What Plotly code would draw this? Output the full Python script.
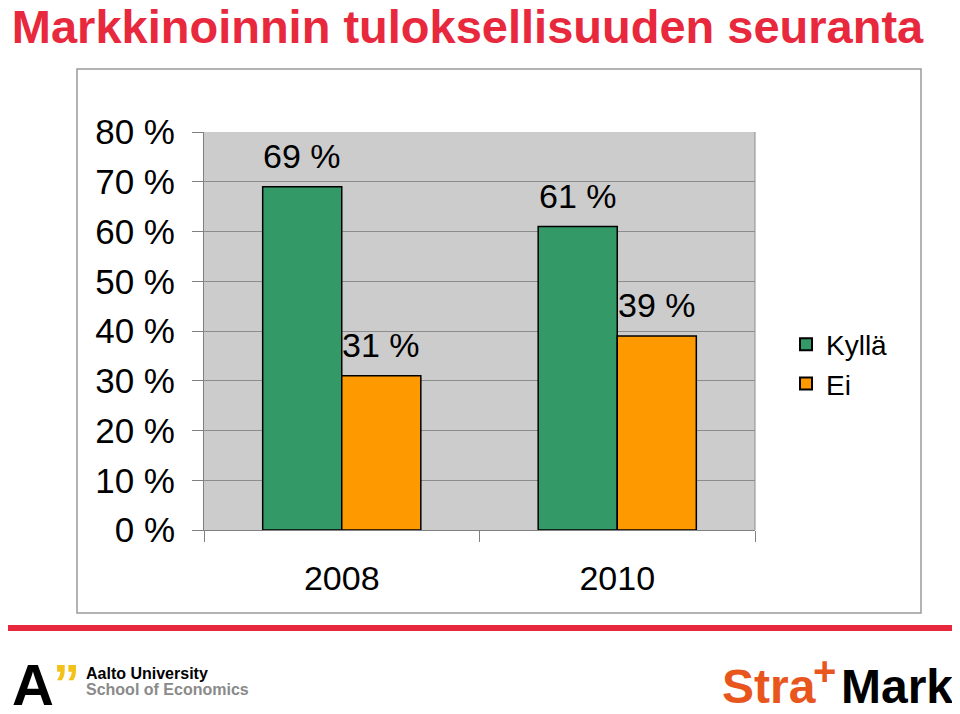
import plotly.graph_objects as go

categories = ["2008", "2010"]
series_names = ["Kyllä", "Ei"]
kylla = [69, 61]
ei = [31, 39]
colors = ["#339966", "#ff9900"]
y_ticks = [0, 10, 20, 30, 40, 50, 60, 70, 80]
y_tick_labels = [f"{v} %" for v in y_ticks]

OFF = 8  # page body margin in the browser
PAGE_W, PAGE_H = 960, 714
W, H = PAGE_W - OFF, PAGE_H - OFF
L, R, T, B = 204, 755, 132, 530  # plot area in page pixels
pw, ph = R - L, B - T

def px(x):
    return (x - L) / pw

def py(y):
    return (B - y) / ph

fig = go.Figure()
bargap = 0.426
half = (1 - bargap) / 4  # offset of each bar centre from category centre

for name, vals, col in zip(series_names, [kylla, ei], colors):
    fig.add_trace(go.Bar(
        x=categories, y=vals, name=name,
        marker=dict(color=col, line=dict(color="#000000", width=1.5)),
        showlegend=False, hoverinfo="skip"))
    fig.add_trace(go.Scatter(
        x=[None], y=[None], mode="markers", name=name,
        marker=dict(symbol="square", size=18, color=col,
                    line=dict(color="#000000", width=1))))

annotations = []
for si, vals in enumerate([kylla, ei]):
    off = -half if si == 0 else half
    for ci, v in enumerate(vals):
        annotations.append(dict(
            x=ci + off, y=v, xref="x", yref="y", text=f"{v} %",
            showarrow=False, yanchor="bottom", yshift=10,
            font=dict(family="Liberation Sans, Arial", size=34, color="#000000")))

# Footer logos as text
annotations += [
    dict(x=px(10), y=py(684), xref="paper", yref="paper", text="<b>A</b>",
         showarrow=False, xanchor="left", yanchor="middle",
         font=dict(family="Liberation Sans", size=58, color="#000000")),
    dict(x=px(51), y=py(683), xref="paper", yref="paper", text="<b>\u201d</b>",
         showarrow=False, xanchor="left", yanchor="middle",
         font=dict(family="Liberation Sans", size=54, color="#f2c21b")),
    dict(x=px(84), y=py(673), xref="paper", yref="paper", text="<b>Aalto University</b>",
         showarrow=False, xanchor="left", yanchor="middle",
         font=dict(family="Liberation Sans", size=16, color="#000000")),
    dict(x=px(84), y=py(689), xref="paper", yref="paper", text="<b>School of Economics</b>",
         showarrow=False, xanchor="left", yanchor="middle",
         font=dict(family="Liberation Sans", size=16, color="#8a8a8a")),
    dict(x=px(720), y=py(686), xref="paper", yref="paper", text="<b>Stra</b>",
         showarrow=False, xanchor="left", yanchor="middle",
         font=dict(family="Liberation Sans", size=48, color="#e8561e")),
    dict(x=px(811), y=py(671), xref="paper", yref="paper", text="<b>+</b>",
         showarrow=False, xanchor="left", yanchor="middle",
         font=dict(family="Liberation Sans", size=40, color="#e8561e")),
    dict(x=px(839), y=py(686), xref="paper", yref="paper", text="<b>Mark</b>",
         showarrow=False, xanchor="left", yanchor="middle",
         font=dict(family="Liberation Sans", size=48, color="#000000")),
]

shapes = [
    # outer chart frame
    dict(type="rect", xref="paper", yref="paper", x0=px(77), x1=px(921),
         y0=py(613), y1=py(69), line=dict(color="#9a9a9a", width=1.5), layer="below"),
    # plot-area right edge
    dict(type="line", xref="paper", yref="paper", x0=1, x1=1, y0=0, y1=1,
         line=dict(color="#8c8c8c", width=1)),
    # red rule
    dict(type="line", xref="paper", yref="paper", x0=px(8), x1=px(955),
         y0=py(628), y1=py(628), line=dict(color="#e8283c", width=6)),
]

fig.update_layout(
    width=W, height=H,
    margin=dict(l=L - OFF, r=PAGE_W - R, t=T - OFF, b=PAGE_H - B),
    paper_bgcolor="#ffffff",
    plot_bgcolor="#cccccc",
    barmode="group", bargap=bargap, bargroupgap=0,
    title=dict(text="<b>Markkinoinnin tuloksellisuuden seuranta</b>",
               x=0.004, xref="container", xanchor="left",
               y=1 - (27 - OFF) / H, yref="container", yanchor="middle",
               font=dict(family="Liberation Sans, Arial", size=47, color="#e8283c")),
    font=dict(family="Liberation Sans, Arial", color="#000000"),
    xaxis=dict(type="category", showgrid=False, showline=True, linecolor="#808080",
               linewidth=1, ticks="outside", tickson="boundaries", ticklen=11,
               tickcolor="#808080", tickfont=dict(size=34), ticklabelstandoff=18,
               fixedrange=True),
    yaxis=dict(range=[0, 80], tickmode="array", tickvals=y_ticks, ticktext=y_tick_labels,
               showgrid=True, gridcolor="#8c8c8c", gridwidth=1,
               zeroline=False, showline=True, linecolor="#808080", linewidth=1,
               ticks="outside", ticklen=11, tickcolor="#808080",
               tickfont=dict(size=35), ticklabelstandoff=10, fixedrange=True),
    legend=dict(x=px(786), y=py(364), xanchor="left", yanchor="middle",
                font=dict(size=28), bgcolor="rgba(0,0,0,0)", tracegroupgap=0,
                itemsizing="constant"),
    annotations=annotations,
    shapes=shapes,
)

fig.write_html("out.html")
